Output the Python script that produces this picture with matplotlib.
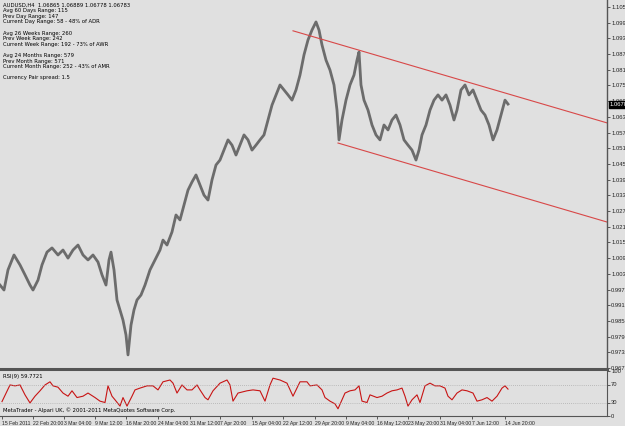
import matplotlib
matplotlib.use("Agg")
import matplotlib.pyplot as plt
from matplotlib import font_manager

# price path (bar index, close)
bar_idx = [0, 4, 8, 14, 20, 25, 30, 33, 38, 42, 47, 52, 58, 63, 68, 73, 78, 83, 88, 93,
           98, 102, 106, 109, 111, 114, 117, 120, 123, 126, 128, 131, 134, 137, 141, 145, 150, 155, 160, 163,
           167, 172, 176, 180, 184, 188, 192, 196, 200, 204, 208, 212, 216, 220, 224, 228, 232, 236, 240, 244,
           248, 252, 256, 260, 264, 268, 272, 276, 280, 284, 288, 292, 296, 300, 304, 308, 312, 316, 319, 322,
           326, 330, 334, 337, 339, 342, 346, 350, 354, 357, 359, 361, 364, 368, 372, 376, 380, 384, 388, 392,
           396, 400, 404, 408, 412, 416, 419, 422, 426, 430, 434, 438, 442, 446, 450, 454, 457, 461, 465, 469,
           473, 477, 481, 485, 489, 493, 497, 501, 505, 508]
close = [0.9989, 0.9970, 1.0047, 1.0104, 1.0066, 1.0028, 0.9989, 0.9970, 1.0008, 1.0066, 1.0115, 1.0131, 1.0104, 1.0123, 1.0092, 1.0123, 1.0142, 1.0104, 1.0085, 1.0104,
         1.0077, 1.0028, 0.9989, 1.0085, 1.0115, 1.0047, 0.9932, 0.9894, 0.9855, 0.9798, 0.9722, 0.9836, 0.9894, 0.9932, 0.9951, 0.9989, 1.0047, 1.0085, 1.0123, 1.0161,
         1.0142, 1.0192, 1.0257, 1.0238, 1.0295, 1.0352, 1.0383, 1.0410, 1.0372, 1.0333, 1.0314, 1.0391, 1.0448, 1.0467, 1.0505, 1.0544, 1.0524, 1.0486, 1.0524, 1.0563,
         1.0544, 1.0505, 1.0524, 1.0544, 1.0563, 1.0620, 1.0677, 1.0716, 1.0754, 1.0735, 1.0716, 1.0696, 1.0735, 1.0792, 1.0869, 1.0926, 1.0964, 1.0995, 1.0964, 1.0907,
         1.0849, 1.0811, 1.0754, 1.0658, 1.0544, 1.0620, 1.0696, 1.0754, 1.0792, 1.0849, 1.0880, 1.0754, 1.0696, 1.0658, 1.0601, 1.0563, 1.0544, 1.0601, 1.0582, 1.0620,
         1.0639, 1.0601, 1.0544, 1.0524, 1.0505, 1.0467, 1.0505, 1.0563, 1.0601, 1.0658, 1.0696, 1.0716, 1.0696, 1.0716, 1.0677, 1.0620, 1.0658, 1.0735, 1.0754, 1.0716,
         1.0735, 1.0696, 1.0658, 1.0639, 1.0601, 1.0544, 1.0582, 1.0639, 1.0696, 1.0681]

# trend channel anchors (bar, price)
upper_x = [293, 607]
upper_y = [1.0961, 1.0609]
lower_x = [338, 607]
lower_y = [1.0532, 1.0230]

# RSI(9) path
rsi_idx = [2, 10, 15, 20, 25, 30, 35, 40, 45, 50, 53, 58, 63, 68, 72, 77, 83, 88, 95, 100,
           105, 108, 112, 115, 120, 123, 127, 132, 135, 140, 147, 153, 158, 163, 170, 173, 177, 182, 187, 192,
           197, 200, 205, 208, 213, 220, 227, 230, 233, 238, 247, 253, 260, 265, 270, 273, 280, 287, 293, 300,
           307, 310, 317, 322, 325, 330, 335, 338, 342, 345, 350, 355, 359, 362, 367, 370, 377, 382, 387, 392,
           397, 402, 405, 408, 412, 417, 420, 425, 430, 435, 440, 445, 448, 452, 457, 462, 467, 473, 477, 482,
           487, 492, 497, 502, 505, 508]
rsi = [32, 69, 67, 69, 47, 29, 44, 56, 69, 76, 67, 64, 51, 44, 56, 41, 44, 51, 41, 33,
       30, 67, 44, 36, 22, 41, 22, 44, 58, 62, 67, 67, 58, 76, 80, 73, 51, 69, 58, 58,
       69, 58, 41, 36, 56, 73, 80, 69, 33, 51, 56, 58, 56, 33, 69, 84, 80, 73, 44, 76,
       76, 67, 69, 58, 41, 33, 27, 16, 36, 51, 56, 58, 67, 33, 30, 47, 41, 44, 51, 56,
       58, 62, 44, 22, 36, 47, 30, 67, 73, 67, 67, 62, 44, 36, 51, 58, 56, 51, 33, 36,
       41, 33, 44, 62, 67, 59.77]

price_ticks = [1.10520, 1.09920, 1.09320, 1.08720, 1.08120, 1.07520, 1.06920, 1.06320,
               1.05720, 1.05120, 1.04520, 1.03920, 1.03320, 1.02720, 1.02120, 1.01520,
               1.00920, 1.00320, 0.99720, 0.99120, 0.98520, 0.97920, 0.97320, 0.96720]
date_pos = [2, 33, 64, 95, 126, 158, 190, 220, 252, 283, 315, 346, 377, 408, 440, 472, 505]
date_labels = ["15 Feb 2011", "22 Feb 20:00", "3 Mar 04:00", "9 Mar 12:00", "16 Mar 20:00",
               "24 Mar 04:00", "31 Mar 12:00", "7 Apr 20:00", "15 Apr 04:00", "22 Apr 12:00",
               "29 Apr 20:00", "9 May 04:00", "16 May 12:00", "23 May 20:00", "31 May 04:00",
               "7 Jun 12:00", "14 Jun 20:00"]
info_lines = ["AUDUSD,H4  1.06865 1.06889 1.06778 1.06783",
              "Avg 60 Days Range: 115",
              "Prev Day Range: 147",
              "Current Day Range: 58 - 48% of ADR",
              "",
              "Avg 26 Weeks Range: 260",
              "Prev Week Range: 242",
              "Current Week Range: 192 - 73% of AWR",
              "",
              "Avg 24 Months Range: 579",
              "Prev Month Range: 571",
              "Current Month Range: 252 - 43% of AMR",
              "",
              "Currency Pair spread: 1.5"]
last_price = 1.06783

names = {f.name for f in font_manager.fontManager.ttflist}
narrow = "Liberation Sans Narrow" if "Liberation Sans Narrow" in names else "Liberation Sans"
plt.rcParams["font.family"] = [narrow, "DejaVu Sans"]
INFO_FONT = ["DejaVu Sans"]   # small but wide, like the terminal font

BG = "#e0e0e0"
FS = 4.2       # axis labels
FS_X = 3.7     # date labels
FS_INFO = 3.8  # info block
W, H = 625, 426
fig = plt.figure(figsize=(W / 100, H / 100), dpi=100, facecolor=BG)

# main price window
ax = fig.add_axes([0, 1 - 368 / H, 607 / W, 368 / H], facecolor=BG)
ax.plot(bar_idx, close, color="#6c6c6c", lw=2.0)
ax.plot(upper_x, upper_y, color="#d84848", lw=0.8)
ax.plot(lower_x, lower_y, color="#d84848", lw=0.8)
ax.set_xlim(0, 607)
ax.set_ylim(1.10788 - 0.0003823 * 368, 1.10788)
ax.yaxis.tick_right()
ax.set_yticks(price_ticks)
ax.set_yticklabels([f"{v:.5f}" for v in price_ticks])
ax.tick_params(axis="y", labelsize=FS, length=2, width=0.5, pad=1, colors="#222222")
ax.set_xticks([])
for s in ["left", "top", "bottom"]:
    ax.spines[s].set_visible(False)
ax.spines["right"].set_color("#555555")
ax.spines["right"].set_linewidth(1.0)
ax.text(1.004, last_price, f"{last_price:.5f}", transform=ax.get_yaxis_transform(),
        fontsize=FS, color="white", va="center", ha="left",
        bbox=dict(boxstyle="square,pad=0.15", fc="black", ec="black"))

# info block, top-left, pixel rows
for i, line in enumerate(info_lines):
    fig.text(3 / W, 1 - (5 + i * 5.6) / H, line, fontsize=FS_INFO, va="center", family=INFO_FONT)

# separator between windows
fig.add_artist(plt.Line2D([0, 607 / W], [1 - 369 / H] * 2, color="#555555", lw=2.2,
                          transform=fig.transFigure))

# RSI window
rx = fig.add_axes([0, 1 - 416 / H, 607 / W, 45 / H], facecolor=BG)
rx.plot(rsi_idx, rsi, color="#c81414", lw=0.8)
rx.axhline(70, color="#999999", lw=0.5, ls=(0, (1, 2)))
rx.axhline(30, color="#999999", lw=0.5, ls=(0, (1, 2)))
rx.set_xlim(0, 607)
rx.set_ylim(0, 100)
rx.yaxis.tick_right()
rx.set_yticks([100, 70, 30, 0])
rx.set_yticklabels(["100", "70", "30", "0"])
rx.tick_params(axis="y", labelsize=FS, length=2, width=0.5, pad=1, colors="#222222")
rx.set_xticks(date_pos)
rx.set_xticklabels(date_labels, ha="left")
rx.tick_params(axis="x", labelsize=FS_X, length=2, width=0.5, pad=1.5, colors="#222222")
rx.spines["left"].set_visible(False)
rx.spines["top"].set_visible(False)
rx.spines["right"].set_color("#555555")
rx.spines["bottom"].set_color("#555555")
rx.text(3 / 607, 0.93, "RSI(9) 59.7721", transform=rx.transAxes, fontsize=FS_INFO,
        va="top", family=INFO_FONT)
rx.text(3 / 607, 0.06, "MetaTrader - Alpari UK, \u00a9 2001-2011 MetaQuotes Software Corp.",
        transform=rx.transAxes, fontsize=FS_INFO, va="bottom", family=INFO_FONT)

fig.savefig("out.png", dpi=100, facecolor=BG)
